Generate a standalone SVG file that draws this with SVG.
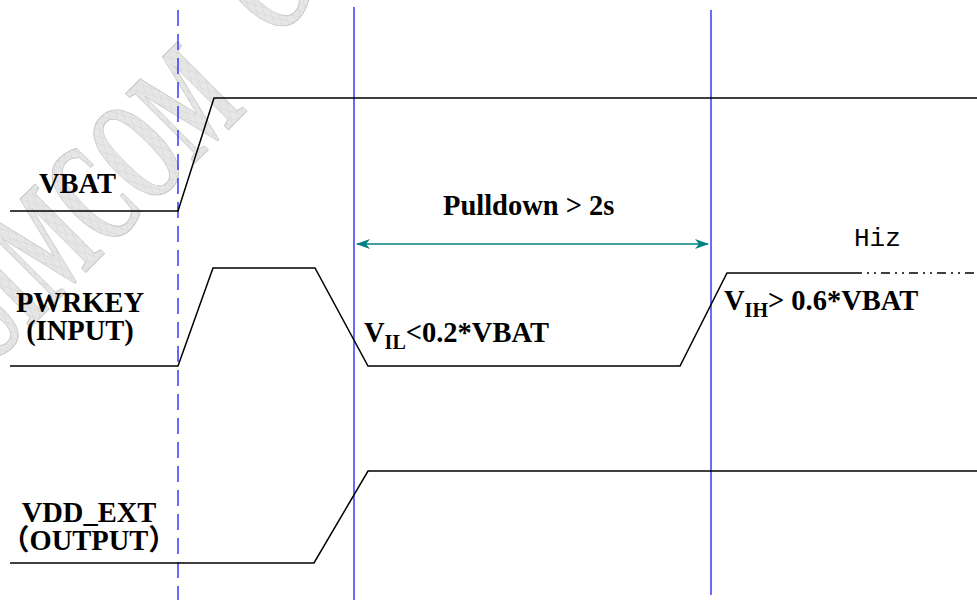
<svg xmlns="http://www.w3.org/2000/svg" width="977" height="607" viewBox="0 0 977 607">
<style>
.sig{fill:none;stroke:#000;stroke-width:1.5}
.grid{stroke:#3838ff;stroke-width:1.5}
.lbl{font-family:"Liberation Serif","Noto Sans CJK SC",serif;font-weight:bold;font-size:28.5px;fill:#000}
.sub{font-size:20px}
.wm{font-family:"Liberation Serif",serif;font-weight:bold;font-size:150px;fill:url(#hatch);stroke:#c6c6c6;stroke-width:1}
</style>
<defs>
<pattern id="hatch" width="10" height="10" patternUnits="userSpaceOnUse" patternTransform="rotate(45)">
<rect width="10" height="10" fill="#e6e6e6"/>
<path d="M0,0 H10 M0,0 V10" stroke="#cfcfcf" stroke-width="1"/>
</pattern>
<marker id="ah" viewBox="0 0 14 10" refX="13" refY="5" markerWidth="14" markerHeight="10" markerUnits="userSpaceOnUse" orient="auto-start-reverse">
<path d="M0,0 L14,5 L0,10 L4,5 Z" fill="#008080"/>
</marker>
</defs>
<rect width="977" height="607" fill="#fff"/>
<text class="wm" transform="translate(-4,362) rotate(-45) scale(0.55,1)">SIMCOM<tspan dx="120" dy="-30">C</tspan></text>
<g id="gridlines">
<line class="grid" x1="178" y1="10" x2="178" y2="600" stroke-dasharray="16,8"/>
<line class="grid" x1="354" y1="7" x2="354" y2="600"/>
<line class="grid" x1="711" y1="10" x2="711" y2="595"/>
</g>
<g id="vbat">
<polyline class="sig" points="10,211 178,211 214,98 977,98"/>
<text class="lbl" x="39" y="193">VBAT</text>
</g>
<g id="pwrkey">
<polyline class="sig" points="10,366 178,366 213,268 315,268 368,366 680,366 727,273 853,273"/>
<line class="sig" x1="853" y1="273" x2="977" y2="273" stroke-dasharray="9,5,2,5,2,5"/>
<text class="lbl" text-anchor="middle"><tspan x="80" y="312">PWRKEY</tspan><tspan x="80" y="340">(INPUT)</tspan></text>
</g>
<g id="vddext">
<polyline class="sig" points="10,563 314,563 368,471 977,471"/>
<text class="lbl" text-anchor="middle"><tspan x="89" y="522">VDD_EXT</tspan><tspan x="89" y="550">（OUTPUT）</tspan></text>
</g>
<g id="connectors">
<line x1="357" y1="244" x2="708" y2="244" stroke="#008080" stroke-width="1.5" marker-start="url(#ah)" marker-end="url(#ah)"/>
</g>
<g id="labels">
<text class="lbl" x="443" y="215">Pulldown &gt; 2s</text>
<text class="lbl" x="364" y="342">V<tspan class="sub" dy="7">IL</tspan><tspan dy="-7">&lt;0.2*VBAT</tspan></text>
<text class="lbl" x="724" y="310">V<tspan class="sub" dy="7">IH</tspan><tspan dy="-7">&gt; 0.6*VBAT</tspan></text>
<text x="854" y="246" font-family="Liberation Mono,monospace" font-size="26" fill="#000">Hiz</text>
</g>
</svg>
